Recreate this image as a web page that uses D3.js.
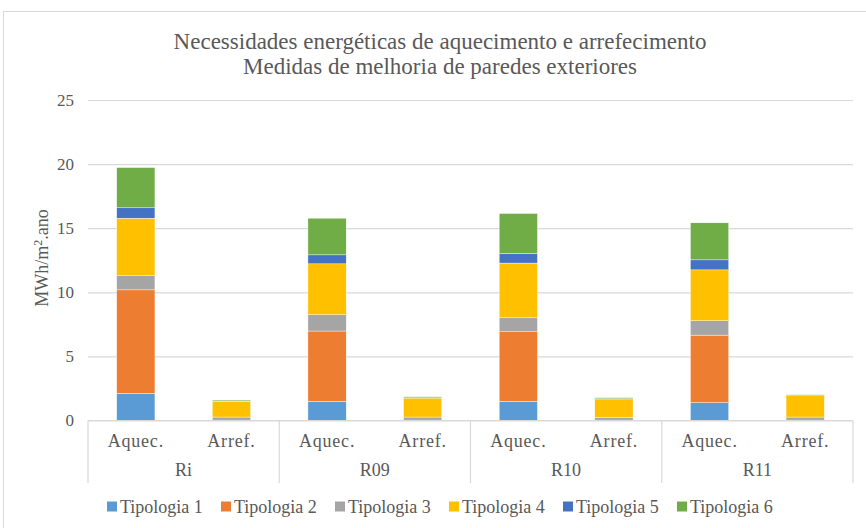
<!DOCTYPE html>
<html><head><meta charset="utf-8">
<script src="https://cdn.jsdelivr.net/npm/d3@7"></script>
<style>body{margin:0;background:#fff}svg{display:block}</style>
</head><body>
<svg id="c" width="866" height="528" font-family="'Liberation Serif', 'Times New Roman', 'DejaVu Serif', serif"></svg>
<script>
const groups = ["Ri", "R09", "R10", "R11"];
const subcats = ["Aquec.", "Arref."];
const seriesNames = ["Tipologia 1", "Tipologia 2", "Tipologia 3", "Tipologia 4", "Tipologia 5", "Tipologia 6"];
const colors = ["#5B9BD5", "#ED7D31", "#A5A5A5", "#FFC000", "#4472C4", "#70AD47"];
// order of values: Ri Aquec, Ri Arref, R09 Aquec, R09 Arref, R10 Aquec, R10 Arref, R11 Aquec, R11 Arref
const tipologia1 = [2.12, 0.02, 1.50, 0.02, 1.50, 0.02, 1.39, 0.02];
const tipologia2 = [8.07, 0.01, 5.48, 0.01, 5.42, 0.01, 5.27, 0.01];
const tipologia3 = [1.10, 0.24, 1.27, 0.24, 1.09, 0.22, 1.12, 0.24];
const tipologia4 = [4.49, 1.22, 3.97, 1.48, 4.27, 1.43, 3.97, 1.66];
const tipologia5 = [0.81, 0.02, 0.70, 0.02, 0.75, 0.02, 0.78, 0.02];
const tipologia6 = [3.14, 0.08, 2.86, 0.08, 3.12, 0.08, 2.89, 0.06];
const yTicks = [0, 5, 10, 15, 20, 25];

const FONT = "'Liberation Serif', 'Times New Roman', 'DejaVu Serif', serif";
const series = [tipologia1, tipologia2, tipologia3, tipologia4, tipologia5, tipologia6];
const rows = [];
groups.forEach((g, gi) => subcats.forEach((s, si) => {
  const r = {key: g + "|" + s, group: g, sub: s};
  seriesNames.forEach((n, k) => r[n] = series[k][gi * 2 + si]);
  rows.push(r);
}));

const svg = d3.select("#c");
const L = 88, R = 853, T = 100, B = 420.5;
const x = d3.scaleBand().domain(rows.map(d => d.key)).range([L, R]).paddingInner(0.6).paddingOuter(0.3);
const y = d3.scaleLinear().domain([0, 25]).range([B, T]);
const gx = d3.scaleBand().domain(groups).range([L, R]);

svg.append("rect").attr("x", 3.5).attr("y", 11.5).attr("width", 880).attr("height", 540)
  .attr("fill", "none").attr("stroke", "#D9D9D9");

const title = svg.append("text").attr("x", 440).attr("text-anchor", "middle")
  .attr("font-family", FONT).attr("font-size", 23).attr("fill", "#595959");
title.append("tspan").attr("x", 440).attr("y", 49).text("Necessidades energéticas de aquecimento e arrefecimento");
title.append("tspan").attr("x", 440).attr("y", 74).text("Medidas de melhoria de paredes exteriores");

const yAxis = d3.axisLeft(y).tickValues(yTicks).tickSize(-(R - L)).tickPadding(14);
const ya = svg.append("g").attr("transform", `translate(${L},0)`).call(yAxis)
  .attr("font-family", FONT).attr("font-size", 17);
ya.select(".domain").remove();
ya.selectAll(".tick line").attr("stroke", "#D9D9D9").attr("stroke-width", 1.2);
ya.selectAll(".tick text").attr("fill", "#595959");

const yl = svg.append("text").attr("transform", "translate(48,258) rotate(-90)").attr("text-anchor", "middle")
  .attr("font-family", FONT).attr("font-size", 18).attr("fill", "#595959");
yl.append("tspan").text("MWh/m");
yl.append("tspan").attr("dy", -6).attr("font-size", 12).text("2");
yl.append("tspan").attr("dy", 6).text(".ano");

const stack = d3.stack().keys(seriesNames)(rows);
svg.append("g").selectAll("g").data(stack).join("g")
  .attr("fill", (d, i) => colors[i])
  .selectAll("rect").data(d => d).join("rect")
  .attr("x", d => x(d.data.key)).attr("width", x.bandwidth())
  .attr("y", d => y(d[1])).attr("height", d => Math.max(0, y(d[0]) - y(d[1])))
  .attr("stroke", "#fff").attr("stroke-width", 0.4);

const ax = svg.append("g").attr("font-family", FONT).attr("font-size", 18).attr("fill", "#595959");
ax.append("line").attr("x1", L).attr("x2", R).attr("y1", B).attr("y2", B).attr("stroke", "#D9D9D9").attr("stroke-width", 1.2);
const bounds = groups.map(g => gx(g)).concat([R]);
ax.selectAll("line.sep").data(bounds).join("line").attr("class", "sep")
  .attr("x1", d => d).attr("x2", d => d).attr("y1", B).attr("y2", 483)
  .attr("stroke", "#D9D9D9").attr("stroke-width", 1.2);
ax.selectAll("text.sub").data(rows).join("text").attr("class", "sub")
  .attr("x", d => x(d.key) + x.bandwidth() / 2).attr("y", 447)
  .attr("text-anchor", "middle").attr("letter-spacing", 0.8).text(d => d.sub);
ax.selectAll("text.grp").data(groups).join("text").attr("class", "grp")
  .attr("x", d => gx(d) + gx.bandwidth() / 2).attr("y", 476)
  .attr("text-anchor", "middle").text(d => d);

const lg = svg.append("g").attr("font-family", FONT).attr("font-size", 18).attr("fill", "#595959")
  .selectAll("g").data(seriesNames).join("g")
  .attr("transform", (d, i) => `translate(${107 + i * 114},500)`);
lg.append("rect").attr("width", 10).attr("height", 10).attr("y", 1.5).attr("fill", (d, i) => colors[i]);
lg.append("text").attr("x", 13).attr("y", 13).text(d => d);
</script>
</body></html>
